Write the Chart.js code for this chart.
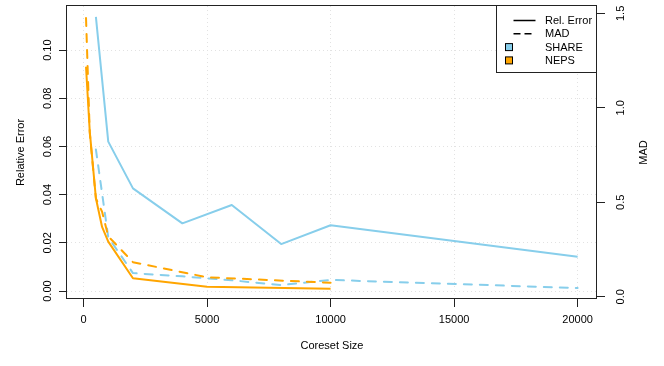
<!DOCTYPE html>
<html>
<head>
<meta charset="utf-8">
<title>Coreset Size vs Error</title>
<script src="https://cdn.jsdelivr.net/npm/chart.js@4.4.1/dist/chart.umd.min.js"></script>
<style>
    html, body { margin: 0; padding: 0; background: #fff; }
    canvas { display: block; }
</style>
</head>
<body>
<canvas id="coresetChart" width="664" height="366"></canvas>
<script>
// SHARE data
var shareSizes = [500, 1000, 2000, 4000, 6000, 8000, 10000, 20000];
var shareRelError = [0.1138, 0.062, 0.0426, 0.0281, 0.0357, 0.0195, 0.0273, 0.0142];
var shareMad = [0.78, 0.315, 0.125, 0.108, 0.087, 0.062, 0.089, 0.046];

// NEPS data
var nepsSizes = [100, 250, 500, 750, 1000, 2000, 5000, 10000];
var nepsRelError = [0.0931, 0.0664, 0.0385, 0.0266, 0.0205, 0.0053, 0.0018, 0.0010];
var nepsMad = [1.475, 0.87, 0.52, 0.45, 0.32, 0.183, 0.103, 0.074];

// tick labels
var sizeTicks = [0, 5000, 10000, 15000, 20000];
var relErrorTicks = [0, 0.02, 0.04, 0.06, 0.08, 0.10];
var madTicks = [0, 0.5, 1.0, 1.5];

var legendLabels = ['Rel. Error', 'MAD', 'SHARE', 'NEPS'];

var shareColor = '#87CEEB';
var nepsColor = '#FFA500';
var fontFamily = "'Liberation Sans', Arial, Helvetica, sans-serif";

Chart.defaults.font.family = fontFamily;
Chart.defaults.font.size = 11;
Chart.defaults.color = '#000';

function toPoints(xs, ys) {
    return xs.map(function (x, i) { return { x: x, y: ys[i] }; });
}

function setTicks(values) {
    return function (scale) {
        scale.ticks = values.map(function (v) { return { value: v }; });
    };
}

// fixed axis sizes so the plot region sits where R put it
function fitWidth(w) {
    return function (scale) {
        scale.width = w;
        scale.paddingTop = 0;
        scale.paddingBottom = 0;
    };
}

// box around the plot region + right axis title
var framePlugin = {
    id: 'frame',
    afterDatasetsDraw: function (chart) {
        var ctx = chart.ctx, a = chart.chartArea;
        ctx.save();
        ctx.strokeStyle = '#222';
        ctx.lineWidth = 1;
        ctx.strokeRect(a.left - 0.5, a.top - 0.5, a.right - a.left, a.bottom - a.top);
        ctx.restore();

        ctx.save();
        ctx.translate(643.5, (a.top + a.bottom) / 2);
        ctx.rotate(-Math.PI / 2);
        ctx.font = '11px ' + fontFamily;
        ctx.fillStyle = '#000';
        ctx.textAlign = 'center';
        ctx.textBaseline = 'middle';
        ctx.fillText('MAD', 0, 0);
        ctx.restore();
    }
};

// legend box in the top right corner, like R's legend("topright")
var legendPlugin = {
    id: 'boxLegend',
    afterDraw: function (chart) {
        var ctx = chart.ctx, a = chart.chartArea;
        var w = 100, h = 67;
        var bx = a.right - w - 0.5, by = a.top - 0.5;
        ctx.save();
        ctx.fillStyle = '#fff';
        ctx.fillRect(bx, by, w, h);
        ctx.strokeStyle = '#222';
        ctx.lineWidth = 1;
        ctx.strokeRect(bx, by, w, h);

        ctx.font = '11px ' + fontFamily;
        ctx.textBaseline = 'middle';
        ctx.textAlign = 'left';
        for (var i = 0; i < legendLabels.length; i++) {
            var y = by + 15 + i * 13.3;
            ctx.strokeStyle = '#000';
            ctx.fillStyle = '#000';
            if (i < 2) {
                ctx.lineWidth = 1.5;
                ctx.setLineDash(i === 1 ? [7, 4] : []);
                ctx.beginPath();
                ctx.moveTo(bx + 17, y);
                ctx.lineTo(bx + 39, y);
                ctx.stroke();
                ctx.setLineDash([]);
            } else {
                ctx.fillStyle = i === 2 ? shareColor : nepsColor;
                ctx.fillRect(bx + 9, y - 3.5, 7, 7);
                ctx.lineWidth = 1;
                ctx.strokeRect(bx + 9, y - 3.5, 7, 7);
                ctx.fillStyle = '#000';
            }
            ctx.fillText(legendLabels[i], bx + 48.5, y + 0.5);
        }
        ctx.restore();
    }
};

var gridStyle = {
    color: '#e2e2e2',
    tickColor: '#222',
    tickLength: 8,
    lineWidth: 1
};

var ctx = document.getElementById('coresetChart').getContext('2d');
var coresetChart = new Chart(ctx, {
    type: 'line',
    data: {
        datasets: [{
            label: 'SHARE Rel. Error',
            data: toPoints(shareSizes, shareRelError),
            yAxisID: 'y',
            borderColor: shareColor,
            borderWidth: 2,
            order: 4
        }, {
            label: 'SHARE MAD',
            data: toPoints(shareSizes, shareMad),
            yAxisID: 'y2',
            borderColor: shareColor,
            borderWidth: 2,
            borderDash: [8, 8],
            borderCapStyle: 'round',
            order: 3
        }, {
            label: 'NEPS Rel. Error',
            data: toPoints(nepsSizes, nepsRelError),
            yAxisID: 'y',
            borderColor: nepsColor,
            borderWidth: 2,
            order: 2
        }, {
            label: 'NEPS MAD',
            data: toPoints(nepsSizes, nepsMad),
            yAxisID: 'y2',
            borderColor: nepsColor,
            borderWidth: 2,
            borderDash: [8, 8],
            borderCapStyle: 'round',
            order: 1
        }]
    },
    options: {
        responsive: false,
        animation: false,
        devicePixelRatio: 1,
        elements: {
            point: { radius: 0, hoverRadius: 0 },
            line: { tension: 0, fill: false, borderJoinStyle: 'round' }
        },
        layout: { padding: { top: 6, left: 0, right: 0, bottom: 0 } },
        plugins: {
            legend: { display: false },
            tooltip: { enabled: false }
        },
        scales: {
            x: {
                type: 'linear',
                position: 'bottom',
                min: -670,
                max: 20785,
                afterBuildTicks: setTicks(sizeTicks),
                afterFit: function (scale) {
                    scale.height = 67;
                    scale.paddingLeft = 0;
                    scale.paddingRight = 0;
                },
                ticks: {
                    autoSkip: false,
                    maxRotation: 0,
                    padding: 6,
                    callback: function (v) { return String(v); }
                },
                grid: gridStyle,
                border: { display: false, dash: [1, 3] },
                title: {
                    display: true,
                    text: 'Coreset Size',
                    padding: { top: 0, bottom: 13 }
                }
            },
            y: {
                type: 'linear',
                position: 'left',
                min: -0.0033,
                max: 0.1183,
                afterBuildTicks: setTicks(relErrorTicks),
                afterFit: fitWidth(67),
                ticks: {
                    minRotation: 90,
                    maxRotation: 90,
                    crossAlign: 'center',
                    padding: 0,
                    callback: function (v) { return v.toFixed(2); }
                },
                grid: gridStyle,
                border: { display: false, dash: [1, 3] },
                title: {
                    display: true,
                    text: 'Relative Error',
                    padding: { top: 14, bottom: 0 }
                }
            },
            y2: {
                type: 'linear',
                position: 'right',
                min: -0.012,
                max: 1.539,
                afterBuildTicks: setTicks(madTicks),
                afterFit: fitWidth(67),
                ticks: {
                    minRotation: 90,
                    maxRotation: 90,
                    crossAlign: 'center',
                    padding: 8,
                    callback: function (v) { return v.toFixed(1); }
                },
                grid: {
                    drawOnChartArea: false,
                    tickColor: '#222',
                    tickLength: 8
                },
                border: { display: false }
            }
        }
    },
    plugins: [framePlugin, legendPlugin]
});
</script>
</body>
</html>
